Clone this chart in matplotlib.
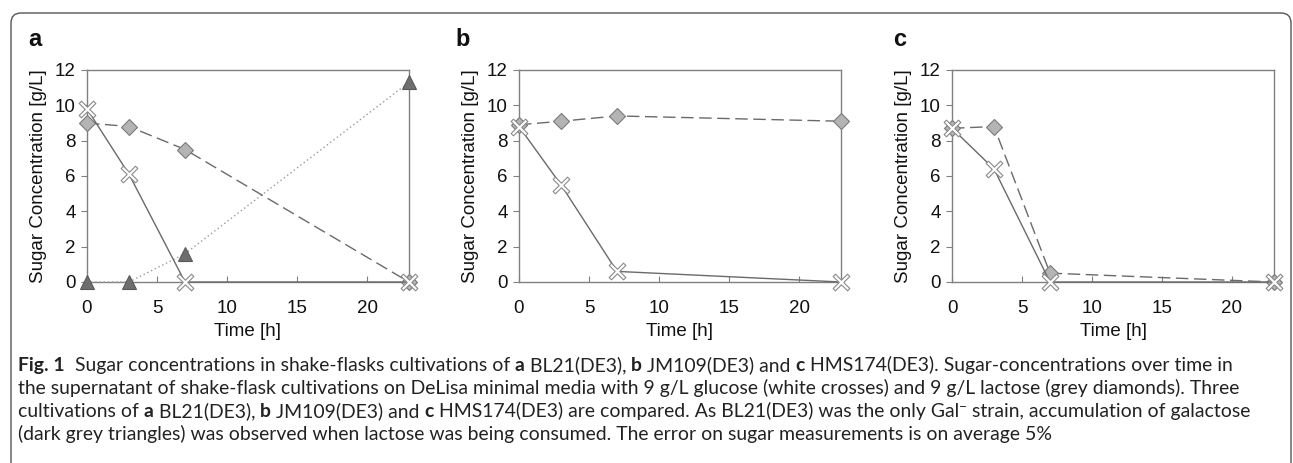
import matplotlib
matplotlib.use("Agg")
import numpy as np
import matplotlib.pyplot as plt
from matplotlib.patches import FancyBboxPatch
from matplotlib.path import Path

# ---- data ----
time_h = [0, 3, 7, 23]
panel_labels = ["a", "b", "c"]

glucose_a = [9.8, 6.1, 0.0, 0.0]
lactose_a = [9.0, 8.8, 7.5, 0.0]
galactose_a = [0.0, 0.0, 1.6, 11.3]

glucose_b = [8.8, 5.5, 0.6, 0.0]
lactose_b = [8.9, 9.1, 9.4, 9.1]

glucose_c = [8.7, 6.4, 0.0, 0.0]
lactose_c = [8.7, 8.8, 0.5, 0.0]

x_ticks = [0, 5, 10, 15, 20]
y_ticks = [0, 2, 4, 6, 8, 10, 12]

# caption: segments (text, bold, superscript)
caption_lines = [
    [("Fig. 1", True, False), ("  Sugar concentrations in shake-flasks cultivations of ", False, False),
     ("a", True, False), (" BL21(DE3), ", False, False), ("b", True, False),
     (" JM109(DE3) and ", False, False), ("c", True, False),
     (" HMS174(DE3). Sugar-concentrations over time in", False, False)],
    [("the supernatant of shake-flask cultivations on DeLisa minimal media with 9 g/L glucose (white crosses) and 9 g/L lactose (grey diamonds). Three", False, False)],
    [("cultivations of ", False, False), ("a", True, False), (" BL21(DE3), ", False, False),
     ("b", True, False), (" JM109(DE3) and ", False, False), ("c", True, False),
     (" HMS174(DE3) are compared. As BL21(DE3) was the only Gal", False, False),
     ("\u2212", False, True), (" strain, accumulation of galactose", False, False)],
    [("(dark grey triangles) was observed when lactose was being consumed. The error on sugar measurements is on average 5%", False, False)],
]

cap_font = "Lato"

# ---- figure ----
W, H = 1293, 463
fig = plt.figure(figsize=(W / 100, H / 100), dpi=100)

axis_col = "#808080"
line_col = "#6a6a6a"
txt_col = "#111111"
main_font = "Liberation Sans"

lefts = [87, 519, 952]
letter_off = [-59, -64, -59]
width_px = 322
top_px, bot_px = 70, 282

# thin cross marker
a = 0.16
plus = np.array([(-a, 1), (a, 1), (a, a), (1, a), (1, -a), (a, -a), (a, -1), (-a, -1),
                 (-a, -a), (-1, -a), (-1, a), (-a, a), (-a, 1)])
th = np.deg2rad(45)
rot = np.array([[np.cos(th), -np.sin(th)], [np.sin(th), np.cos(th)]])
cross_path = Path(plus @ rot.T, closed=True)

series = [
    [("glu", glucose_a), ("lac", lactose_a), ("gal", galactose_a)],
    [("glu", glucose_b), ("lac", lactose_b)],
    [("glu", glucose_c), ("lac", lactose_c)],
]

styles = {
    "gal": dict(color="#9a9a9a", lw=1.0, linestyle=(0, (1, 2)), marker="^", ms=10,
                mfc="#6e6e6e", mec="#5a5a5a", mew=0.8),
    "lac": dict(color=line_col, lw=1.0, linestyle=(0, (9, 4)), marker="D", ms=8.5,
                mfc="#b4b4b4", mec="#7a7a7a", mew=0.8),
    "glu": dict(color=line_col, lw=1.0, linestyle="-", marker=cross_path, ms=12,
                mfc="white", mec="#8a8a8a", mew=0.8),
}

for i, (left, lab) in enumerate(zip(lefts, panel_labels)):
    ax = fig.add_axes([left / W, (H - bot_px) / H, width_px / W, (bot_px - top_px) / H])
    order = ["gal", "lac", "glu"] if i == 0 else ["lac", "glu"]
    d = dict(series[i])
    for key in order:
        if key in d:
            ax.plot(time_h, d[key], clip_on=False, zorder=3, **styles[key])
    ax.set_xlim(0, 23)
    ax.set_ylim(0, 12)
    ax.set_xticks(x_ticks)
    ax.set_yticks(y_ticks)
    for s in ax.spines.values():
        s.set_color(axis_col)
        s.set_linewidth(1.0)
    ax.tick_params(axis="x", direction="in", length=4, color=axis_col, labelsize=13.5,
                   pad=13, labelcolor=txt_col)
    ax.tick_params(axis="y", direction="out", length=4, color=axis_col, labelsize=13.5,
                   pad=4, labelcolor=txt_col)
    for t in ax.get_xticklabels() + ax.get_yticklabels():
        t.set_fontfamily(main_font)
    ax.set_xlabel("Time [h]", fontsize=13.5, family=main_font, labelpad=4, color=txt_col)
    ax.set_ylabel("Sugar Concentration [g/L]", fontsize=13.5, family=main_font,
                  labelpad=6, color=txt_col)
    fig.text((left + letter_off[i]) / W, (H - 40) / H, lab, fontsize=17, fontweight="bold",
             family=main_font, va="center", ha="left", color=txt_col)

# rounded frame
box = FancyBboxPatch((0.11, -0.5), 12.80, 4.5 + 0.5, boxstyle="round,pad=0,rounding_size=0.1",
                     transform=fig.dpi_scale_trans, fill=False, ec="#555555", lw=1.0)
fig.add_artist(box)

# ---- caption drawn segment by segment ----
renderer = fig.canvas.get_renderer()

def line_width(segs, size):
    tot = 0
    for txt, bold, sup in segs:
        t = fig.text(0, 0, txt, fontsize=size * (0.7 if sup else 1), family=cap_font,
                     fontweight="bold" if bold else "normal")
        tot += t.get_window_extent(renderer).width
        t.remove()
    return tot

target_w = 1222
base = 11
size = base * target_w / line_width(caption_lines[1], base)

cap_y = [365, 388, 411, 434]
for yy, segs in zip(cap_y, caption_lines):
    x = 18
    base_px = H - yy - size * 0.45
    for txt, bold, sup in segs:
        fs = size * (0.7 if sup else 1)
        ypix = base_px + (size * 0.5 if sup else 0)
        t = fig.text(x / W, ypix / H, txt, fontsize=fs, family=cap_font,
                     fontweight="bold" if bold else "normal", va="baseline", ha="left",
                     color="#222222")
        x += t.get_window_extent(renderer).width

fig.savefig("out.png", dpi=100)
